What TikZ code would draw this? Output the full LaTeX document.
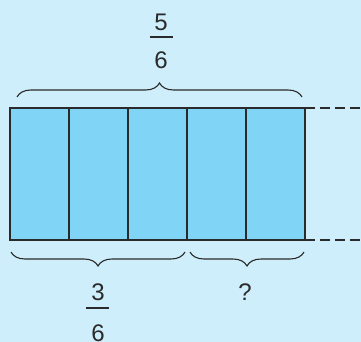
\documentclass[tikz,border=0pt]{standalone}
\usepackage{fontspec}
\setmainfont{Liberation Sans}
\usetikzlibrary{decorations.pathreplacing}
\definecolor{bgblue}{HTML}{CDEEFA}
\definecolor{barblue}{HTML}{80D5F6}
\definecolor{inkgray}{HTML}{2A2A2A}
\begin{document}
\begin{tikzpicture}[
    x=1pt, y=-1pt,
    every node/.style={font=\fontsize{24}{28}\selectfont, text=inkgray, inner sep=0pt},
    partline/.style={draw=inkgray, line width=2pt},
    bracepath/.style={
        draw=inkgray,
        line width=1.1pt,
        decorate,
        decoration={brace, amplitude=14pt}
    },
    fracbar/.style={draw=inkgray, line width=1.4pt}
]

% ---------- background ----------
\fill[bgblue] (0,0) rectangle (361,342);
\useasboundingbox (0,0) rectangle (361,342);

% ---------- the bar of five sixths ----------
\fill[barblue] (10,108) rectangle (305,240);
\foreach \i in {1,...,4}{
    \draw[partline] (10+\i*59,108) -- (10+\i*59,240);
}
\draw[partline] (10,108) rectangle (305,240);

% dashed continuation
\coordinate (topend) at (305,108);
\coordinate (botend) at (305,240);
\coordinate (topfar) at (361,108);
\coordinate (botfar) at (361,240);
\draw[partline, dash pattern=on 10pt off 5pt] (topend) -- (topfar);
\draw[partline, dash pattern=on 10pt off 5pt] (botend) -- (botfar);

% ---------- top brace: 5/6 ----------
\coordinate (topl) at (17,97);
\coordinate (topr) at (302,97);
\draw[bracepath] (topl) -- (topr);
\node (topnum) at (161,22) {5};
\node (topden) at (161,60) {6};
\draw[fracbar] (150,37) -- (173,37);

% ---------- bottom braces: 3/6 and ? ----------
\coordinate (lowl) at (11,252);
\coordinate (lowm) at (185,252);
\coordinate (lown) at (190,252);
\coordinate (lowr) at (304,252);
\draw[bracepath] (lowm) -- (lowl);
\draw[bracepath] (lowr) -- (lown);
\node (lownum) at (98,292) {3};
\node (lowden) at (98,333) {6};
\draw[fracbar] (86,308) -- (109,308);
\node (unknown) at (245,292) {?};

\end{tikzpicture}
\end{document}
